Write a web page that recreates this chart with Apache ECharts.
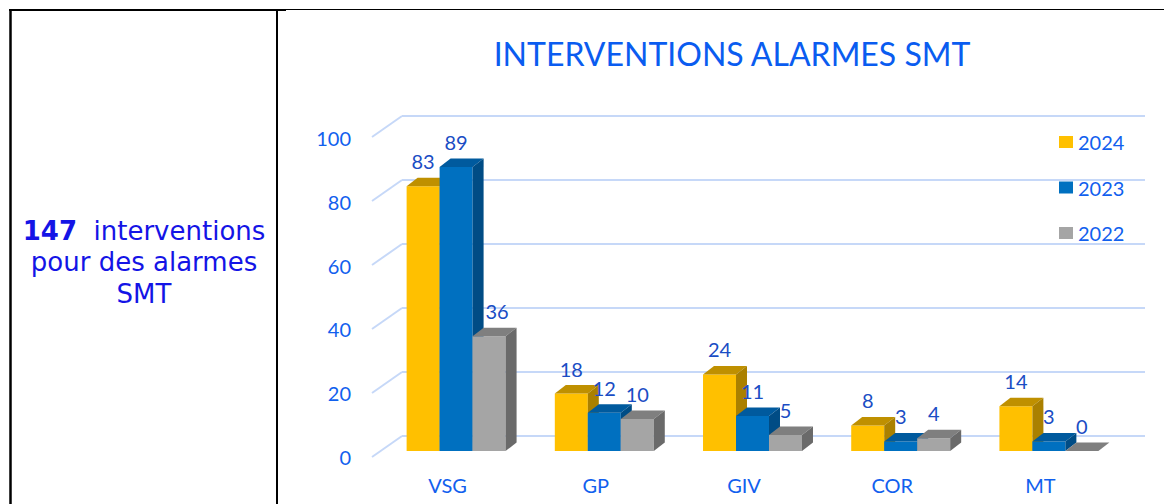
<!DOCTYPE html>
<html><head><meta charset="utf-8">
<script src="https://cdn.jsdelivr.net/npm/echarts@6/dist/echarts.min.js"></script>
<style>html,body{margin:0;padding:0;background:#fff}#c{width:1164px;height:504px}</style>
</head><body><div id="c"></div>
<script>
// ---- data ----
const categories = ['VSG', 'GP', 'GIV', 'COR', 'MT'];
const seriesNames = ['2024', '2023', '2022'];
const values2024 = [83, 18, 24, 8, 14];
const values2023 = [89, 12, 11, 3, 3];
const values2022 = [36, 10, 5, 4, 0];
const yTicks = [0, 20, 40, 60, 80, 100];
const chartTitle = 'INTERVENTIONS ALARMES SMT';
const totalCount = '147';
const sideLines = [' interventions', 'pour des alarmes', 'SMT'];

// ---- styles ----
const FONT = 'Lato, "Open Sans", sans-serif';
const AXIS_COLOR = '#1160EE';
const LABEL_COLOR = '#1A4DC4';
const GRID_COLOR = '#C6D8F8';
const DX = 11, DY = 8.5;
const BAR_FRAC = 0.2226;
const faces = [
  { front: '#FFC000', top: '#BF9000', side: '#AA8000' },
  { front: '#0070C0', top: '#005A9E', side: '#004C85' },
  { front: '#A5A5A5', top: '#7F7F7F', side: '#6A6A6A' }
];
const seriesValues = [values2024, values2023, values2022];

function makeBarRender(si) {
  const c = faces[si];
  return function (params, api) {
    const idx = api.value(0), v = api.value(1);
    const base = api.coord([idx, 0]);
    const top = api.coord([idx, v]);
    const band = api.size([1, 0])[0];
    const w = band * BAR_FRAC;
    const x = base[0] - 1.5 * w + si * w;
    const yB = base[1], yT = top[1];
    // move the value label off the dark side face of a much taller neighbour
    let lx = x + w / 2;
    if (si > 0 && seriesValues[si - 1][idx] - v > 20) lx += 8;
    return {
      type: 'group',
      children: [
        { type: 'rect', shape: { x: x, y: yT, width: w, height: yB - yT }, style: { fill: c.front } },
        { type: 'polygon', shape: { points: [[x, yT], [x + DX, yT - DY], [x + w + DX, yT - DY], [x + w, yT]] }, style: { fill: c.top } },
        { type: 'polygon', shape: { points: [[x + w, yT], [x + w + DX, yT - DY], [x + w + DX, yB - DY], [x + w, yB]] }, style: { fill: c.side } },
        { type: 'text', z2: 10, style: { text: String(v), x: lx, y: yT - 25, align: 'center', verticalAlign: 'middle', fill: LABEL_COLOR, font: '20px ' + FONT } }
      ]
    };
  };
}

const barSeries = seriesNames.map(function (name, si) {
  return {
    name: name,
    type: 'custom',
    xAxisIndex: 0, yAxisIndex: 0,
    itemStyle: { color: faces[si].front },
    renderItem: makeBarRender(si),
    data: seriesValues[si].map(function (v, i) { return [i, v]; })
  };
});

const connectorSeries = {
  type: 'custom',
  xAxisIndex: 1, yAxisIndex: 1,
  silent: true,
  renderItem: function (params, api) {
    const p = api.coord([0, api.value(1)]);
    return { type: 'line', shape: { x1: p[0] - 30, y1: p[1] + 21, x2: p[0], y2: p[1] }, style: { stroke: GRID_COLOR, lineWidth: 2 } };
  },
  data: yTicks.map(function (v) { return [0, v]; })
};

const chart = echarts.init(document.getElementById('c'), null, { renderer: 'svg' });
chart.setOption({
  animation: false,
  backgroundColor: '#fff',
  title: {
    text: chartTitle, left: 727, top: 32, textAlign: 'center',
    textStyle: { fontFamily: FONT, fontWeight: 'normal', fontSize: 32, color: '#0A5CF0' }
  },
  legend: {
    data: seriesNames, orient: 'vertical', left: 1059, top: 130, padding: 0,
    icon: 'rect', itemWidth: 14, itemHeight: 12, itemGap: 21.5, selectedMode: false,
    textStyle: { fontFamily: FONT, fontSize: 20, color: AXIS_COLOR, lineHeight: 24 }
  },
  grid: [
    { left: 382, top: 132, width: 741, height: 319 },
    { left: 402, top: 116, width: 743, height: 320 },
    { left: 372, top: 138, width: 30, height: 319 }
  ],
  xAxis: [
    { type: 'category', gridIndex: 0, data: categories,
      axisLine: { show: false }, axisTick: { show: false },
      axisLabel: { margin: 24, padding: [0, 17, 0, 0], fontFamily: FONT, fontSize: 20, color: AXIS_COLOR } },
    { type: 'value', gridIndex: 1, min: 0, max: 1, show: false },
    { type: 'value', gridIndex: 2, min: 0, max: 1, show: false }
  ],
  yAxis: [
    { type: 'value', gridIndex: 0, min: 0, max: 100, show: false },
    { type: 'value', gridIndex: 1, min: 0, max: 100, interval: 20,
      axisLine: { show: false }, axisTick: { show: false }, axisLabel: { show: false },
      splitLine: { lineStyle: { color: GRID_COLOR, width: 2 } } },
    { type: 'value', gridIndex: 2, min: 0, max: 100, interval: 20,
      axisLine: { show: false }, axisTick: { show: false }, splitLine: { show: false },
      axisLabel: { margin: 21, fontFamily: FONT, fontSize: 20, color: AXIS_COLOR } }
  ],
  graphic: [
    { type: 'line', shape: { x1: 10.5, y1: 9, x2: 10.5, y2: 504 }, style: { stroke: '#000', lineWidth: 2.5 } },
    { type: 'line', shape: { x1: 9, y1: 10, x2: 286, y2: 10 }, style: { stroke: '#000', lineWidth: 2 } },
    { type: 'line', shape: { x1: 286, y1: 9.5, x2: 1164, y2: 9.5 }, style: { stroke: '#000', lineWidth: 1 } },
    { type: 'line', shape: { x1: 277, y1: 9, x2: 277, y2: 504 }, style: { stroke: '#000', lineWidth: 2 } },
    { type: 'text', x: 144, y: 262,
      style: {
        text: '{b|' + totalCount + '}{n| ' + sideLines[0] + '}\n{n|' + sideLines[1] + '}\n{n|' + sideLines[2] + '}',
        align: 'center', verticalAlign: 'middle',
        rich: {
          b: { fontFamily: '"DejaVu Sans"', fontWeight: 'bold', fontSize: 26, fill: '#1414E6', lineHeight: 31.5 },
          n: { fontFamily: '"DejaVu Sans"', fontSize: 26, fill: '#1414E6', lineHeight: 31.5 }
        }
      } }
  ],
  series: [connectorSeries].concat(barSeries)
});
</script></body></html>
